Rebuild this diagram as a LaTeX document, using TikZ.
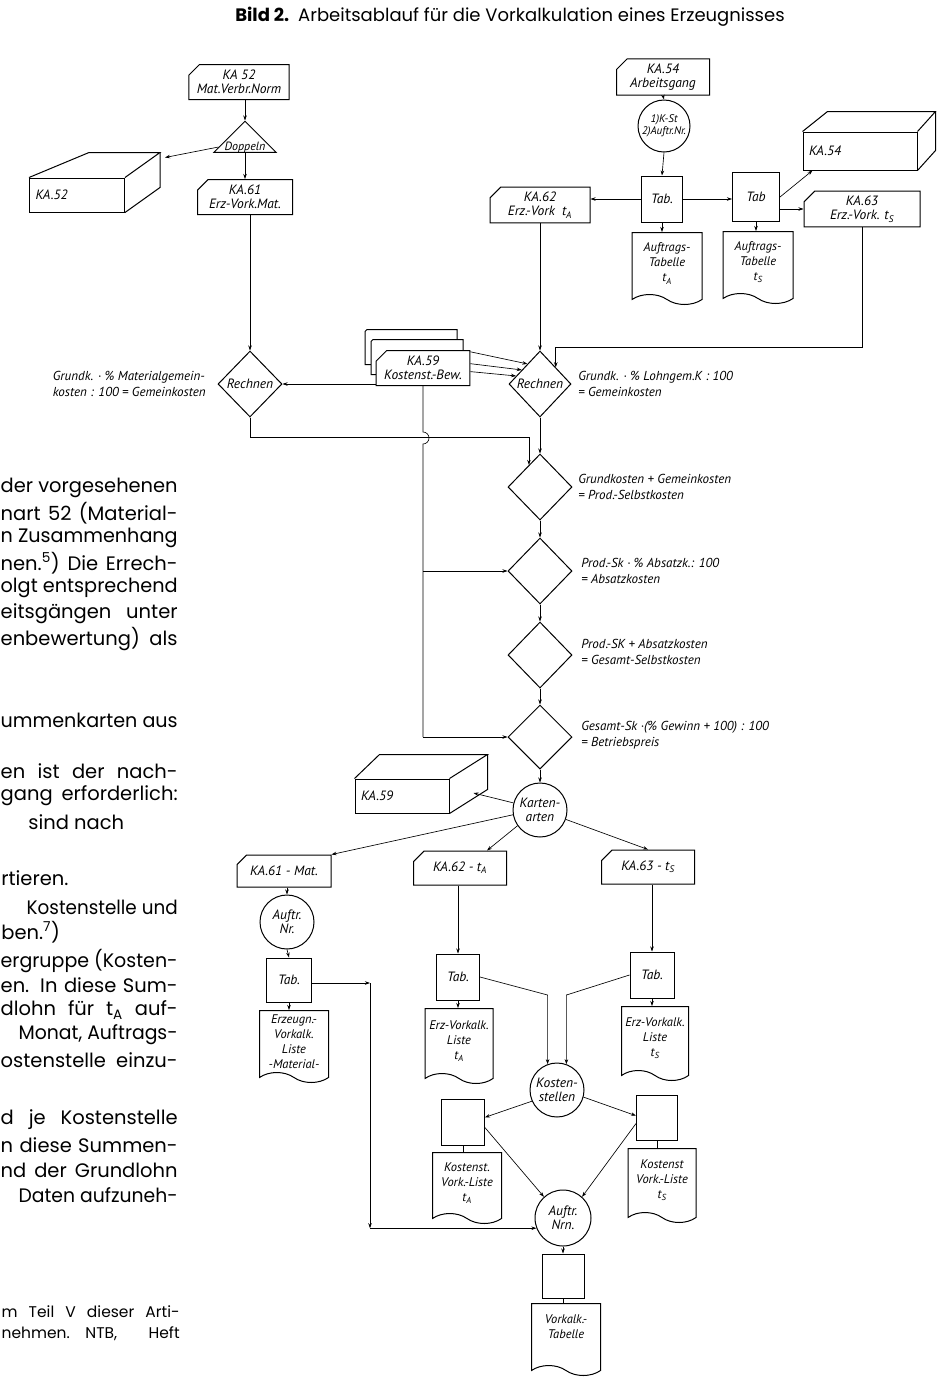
\documentclass[tikz,border=0pt]{standalone}
\usepackage{fontspec}
\setmainfont{Poppins}
\newfontfamily\handfont{PT Sans}
\usetikzlibrary{calc,arrows.meta,shapes.geometric,shapes.misc,shapes.symbols}
\newsavebox\linebox
\newcommand\blockline[2]{\sbox\linebox{#2}\ifdim\wd\linebox>#1\relax
  \resizebox{#1}{\height}{\usebox\linebox}\else\hbox to #1{#2}\fi}

\begin{document}
\begin{tikzpicture}[x=1pt, y=-1pt, line width=0.65pt,
    >={Stealth[length=5pt, width=3.5pt]},
    every node/.style={font=\handfont\itshape\fontsize{13.5}{14.5}\selectfont, align=center, inner sep=1pt},
    card/.style={draw, line width=1pt, fill=white, chamfered rectangle,
        chamfered rectangle corners=north west, chamfered rectangle xsep=7pt,
        minimum width=#1, minimum height=35pt},
    tabbox/.style={draw, line width=1pt, minimum width=43pt, minimum height=46pt},
    liste/.style={draw, line width=1pt, tape, tape bend top=none,
        tape bend bottom=out and in, tape bend height=10pt, anchor=north,
        minimum width=#1, minimum height=72pt, inner sep=0.5pt,
        font=\handfont\itshape\fontsize{12.5}{15}\selectfont},
    sorter/.style={draw, line width=1pt, circle, minimum size=54pt, inner sep=0pt},
    rechnen/.style={draw, line width=1pt, diamond, minimum width=64pt, minimum height=66pt, inner sep=0pt},
    kartei/.style={draw, line width=1pt, fill=white, text width=#1, inner xsep=6pt,
        minimum height=34pt, align=left},
    formel/.style={align=left, font=\handfont\itshape\fontsize{13}{16}\selectfont},
    bodytext/.style={inner sep=0pt, anchor=east, font=\fontsize{19.5}{22}\selectfont},
    foottext/.style={inner sep=0pt, anchor=east, font=\fontsize{15.5}{17}\selectfont}
  ]
  \useasboundingbox (0,0) rectangle (941,1377);

  \node (title) [font=\fontsize{18}{20}\selectfont] at (510,17)
      {\textbf{Bild 2.}\enspace Arbeitsablauf für die Vorkalkulation eines Erzeugnisses};

  % Textspalte links (abgeschnitten)
  \foreach \x/\y/\t [count=\i] in {0/488/{der vorgesehenen}, 0/513/{nart 52 (Material-},
      0/538/{n Zusammenhang}, 0/563/{nen.\textsuperscript{5}) Die Errech-},
      0/588/{olgt entsprechend}, 0/614/{eitsgängen unter}, 0/639/{enbewertung) als},
      0/720/{ummenkarten aus}, 0/771/{en ist der nach-}, 0/796/{gang erforderlich:},
      26/907/{Kostenstelle und}, 0/961/{ergruppe (Kosten-}, 0/985/{en. In diese Sum-},
      0/1010/{dlohn für t\textsubscript{A} auf-}, 18/1035/{Monat, Auftrags-},
      0/1060/{ostenstelle einzu-}, 0/1120/{d je Kostenstelle}, 0/1145/{n diese Summen-},
      0/1170/{nd der Grundlohn}, 18/1195/{Daten aufzuneh-}}
    \node (body\i) [bodytext] at (178,\y) {\blockline{\dimexpr177pt-\x pt\relax}{\t}};
  \node (body21) [bodytext, anchor=west] at (28,822) {sind nach};
  \node (body22) [bodytext, anchor=west] at (1,878) {rtieren.};
  \node (body23) [bodytext, anchor=west] at (1,932) {ben.\textsuperscript{7})};
  \node (foot1) [foottext] at (180,1312) {\blockline{178pt}{m Teil V dieser Arti-}};
  \node (foot2) [foottext] at (180,1334) {\blockline{178pt}{nehmen.\quad NTB,\ Heft}};

  % Material
  \node (ka52) [card=98pt] at (239,82) {KA 52\\Mat.Verbr.Norm};
  \node (dop) [draw, line width=1pt, isosceles triangle, isosceles triangle apex angle=90,
      shape border rotate=90, inner sep=0pt,
      font=\handfont\itshape\fontsize{12}{13}\selectfont] at (245,147) {Doppeln};
  \node (b52) [kartei=83pt] at (77,195) {KA.52};
  \node (ka61) [card=95pt] at (245,197) {KA.61\\Erz-Vork.Mat.};
  \node (r1) [rechnen] at (250,384) {Rechnen};
  \node (f1) [formel, anchor=east] at (207,384) {Grundk. · \% Materialgemein-\\kosten : 100 = Gemeinkosten};

  % Arbeitsgang
  \node (ka54) [card=93pt] at (663,77) {KA.54\\Arbeitsgang};
  \node (sort1) [sorter, minimum size=52pt, font=\handfont\itshape\fontsize{11}{12.5}\selectfont]
      at (664,126) {1)K-St\\2)Auftr.Nr.};
  \node (tab1) [tabbox, minimum width=41pt] at (662,199) {Tab.};
  \node (doc1) [liste=70pt] at (667,232) {Auftrags-\\Tabelle\\t\textsubscript{A}};
  \node (ka62) [card=100pt] at (540,205) {KA.62\\Erz.-Vork~~t\textsubscript{A}};
  \node (tab2) [tabbox, minimum width=47pt, minimum height=49pt] at (756,197) {Tab};
  \node (doc2) [liste=70pt] at (758,231) {Auftrags-\\Tabelle\\t\textsubscript{S}};
  \node (b54) [kartei=102pt, minimum height=38pt] at (860,151) {KA.54};
  \node (ka63) [card=116pt] at (862,209) {KA.63\\Erz.-Vork. t\textsubscript{S}};

  % Rechengang
  \node (ka59c) [card=92pt] at (411,347) {};
  \node (ka59b) [card=92pt] at (417,357) {};
  \node (ka59) [card=92pt] at (423,368) {KA.59\\Kostenst.-Bew.};
  \node (r2) [rechnen, minimum width=62pt] at (540,384) {Rechnen};
  \node (f2) [formel, anchor=west] at (577,384) {Grundk. · \% Lohngem.K : 100\\= Gemeinkosten};
  \node (d3) [rechnen] at (540,487) {};
  \node (f3) [formel, anchor=west] at (577,487) {Grundkosten + Gemeinkosten\\= Prod.-Selbstkosten};
  \node (d4) [rechnen] at (540,571) {};
  \node (f4) [formel, anchor=west] at (580,571) {Prod.-Sk · \% Absatzk.: 100\\= Absatzkosten};
  \node (d5) [rechnen] at (540,655) {};
  \node (f5) [formel, anchor=west] at (580,652) {Prod.-SK + Absatzkosten\\= Gesamt-Selbstkosten};
  \node (d6) [rechnen, minimum height=64pt] at (540,737) {};
  \node (f6) [formel, anchor=west] at (580,735) {Gesamt-Sk ·(\% Gewinn + 100) : 100\\= Betriebspreis};
  \node (kart) [sorter] at (540,810) {Karten-\\arten};
  \node (b59) [kartei=82pt] at (402,796) {KA.59};

  % Listen
  \node (ka61m) [card=94pt, minimum height=32pt] at (284,871) {KA.61 - Mat.};
  \node (ka62m) [card=93pt, minimum height=34pt] at (460,868) {KA.62 - t\textsubscript{A}};
  \node (ka63m) [card=93pt, minimum height=34pt] at (648,867) {KA.63 - t\textsubscript{S}};
  \node (anr) [sorter] at (287,922) {Auftr.\\Nr.};
  \node (tab3) [tabbox, minimum width=45pt, minimum height=44pt] at (289,980) {Tab.};
  \node (doc3) [liste=69pt] at (294,1010) {Erzeugn.-\\Vorkalk.\\Liste\\-Material-};
  \node (tab4) [tabbox] at (458,977) {Tab.};
  \node (doc4) [liste=68pt, minimum height=75pt] at (459,1008) {Erz-Vorkalk.\\Liste\\t\textsubscript{A}};
  \node (tab5) [tabbox, minimum width=44pt] at (652,975) {Tab.};
  \node (doc5) [liste=67pt, minimum height=74pt] at (655,1006) {Erz-Vorkalk.\\Liste\\t\textsubscript{S}};
  \node (kst) [sorter] at (557,1090) {Kosten-\\stellen};
  \node (bl) [tabbox] at (463,1122) {};
  \node (docl) [liste=69pt, minimum height=71pt] at (467,1152) {Kostenst.\\Vork.-Liste\\t\textsubscript{A}};
  \node (br) [tabbox, minimum width=41pt, minimum height=45pt] at (657,1118) {};
  \node (docr) [liste=68pt, minimum height=74pt] at (662,1148) {Kostenst\\Vork.-Liste\\t\textsubscript{S}};
  \node (anrn) [sorter, minimum size=56pt] at (563,1218) {Auftr.\\Nrn.};
  \node (bb) [tabbox, minimum width=42pt, minimum height=44pt] at (563,1276) {};
  \node (docf) [liste=69pt] at (566,1303) {Vorkalk.-\\Tabelle\\\phantom{X}};

  % Kartei-Kaesten
  \foreach \n/\l/\r/\h in {b52/60/35/25, b54/25/18/20, b59/25/38/24}
    {
      \draw [line width=1pt] (\n.north west) -- ++(\l,-\h) -- ($(\n.north east)+(\r,-\h)$) -- (\n.north east);
      \draw [line width=1pt] ($(\n.north east)+(\r,-\h)$) -- ($(\n.south east)+(\r,-\h)$) -- (\n.south east);
    }

  % Verbindungen
  \draw [->] (dop.apex |- ka52.south) -- (dop.apex);
  \draw [->] (dop.west) -- ($(b52.north east)+(40,-20)$);
  \draw [->] (dop.south) -- (dop.south |- ka61.north);
  \draw [->] (r1.north |- ka61.south) -- (r1.north);
  \draw [->] (ka59.west |- r1.east) -- (r1.east);
  \draw [->] ($(ka59.north east)!0.05!(ka59.south east)$) -- ($(r2.west)!0.6!(r2.north)$);
  \draw [->] ($(ka59.north east)!0.38!(ka59.south east)$) -- ($(r2.west)!0.42!(r2.north)$);
  \draw [->] ($(ka59.north east)!0.6!(ka59.south east)$) -- ($(r2.west)!0.24!(r2.north)$);

  \draw [->] (ka54.south) -- (sort1.north);
  \draw [->] (sort1.south) -- (tab1.north);
  \draw [->] (tab1.south) -- (tab1.south |- doc1.north);
  \draw [->] (tab1.west) -- (tab1.west -| ka62.east);
  \draw [->] (tab1.east) -- (tab1.east -| tab2.west);
  \draw [->] (tab2.south) -- (tab2.south |- doc2.north);
  \draw [->] (tab2.east) -- ($(b54.south west)+(10,0)$);
  \draw [->] (ka63.west -| tab2.east) -- (ka63.west);
  \draw [->] (ka62.south) -- (r2.north);
  \draw [->] (ka63.south) -- (ka63.south |- 0,347) -| ($(r2.east)!0.5!(r2.north)$);

  \draw [->] (r2.south) -- (d3.north);
  \draw [->] (r1.south) -- ++(0,20) -| ($(d3.west)!0.66!(d3.north)$);
  \draw (ka59.south) -- ++(0,46) arc[start angle=90, end angle=-90, radius=6pt] -- (ka59.south |- d6.west);
  \draw [->] (ka59.south |- d4.west) -- (d4.west);
  \draw [->] (ka59.south |- d6.west) -- (d6.west);
  \foreach \a/\b in {d3/d4, d4/d5, d5/d6, d6/kart}
    \draw [->] (\a.south) -- (\b.north);

  \draw [->] (kart.165) -- ($(b59.east)+(24,-3)$);
  \draw [->] (kart.190) -- (ka61m.north east);
  \draw [->] (kart.215) -- ($(ka62m.north east)+(-20,0)$);
  \draw [->] (kart.-20) -- (ka63m.north);

  \draw [->] (anr.north |- ka61m.south) -- (anr.north);
  \draw [->] (anr.south) -- (tab3.north);
  \draw [->] (tab3.south) -- (tab3.south |- doc3.north);
  \coordinate (c1) at (370,983);
  \coordinate (c2) at (c1 |- anrn.201);
  \draw [->] (tab3.east |- c1) -- (c1);
  \draw [->] (c1) -- (c2);
  \draw [->] (c2) -- (anrn.201);

  \draw [->] (tab4.north |- ka62m.south) -- (tab4.north);
  \draw [->] (tab4.south) -- (tab4.south |- doc4.north);
  \draw [->] (tab4.east) -- (kst.110 |- 0,995) -- (kst.110);
  \draw [->] (tab5.north |- ka63m.south) -- (tab5.north);
  \draw [->] (tab5.south) -- (tab5.south |- doc5.north);
  \draw [->] (tab5.west) -- (kst.70 |- 0,995) -- (kst.70);

  \draw [->] (kst.204) -- ($(bl.north east)!0.4!(bl.south east)$);
  \draw [->] (kst.-15) -- ($(br.north west)!0.45!(br.south west)$);
  \draw (bl.south) -- (bl.south |- docl.north);
  \draw (br.south) -- (br.south |- docr.north);
  \draw [->] ($(bl.north east)!0.62!(bl.south east)$) -- (anrn.132);
  \draw [->] ($(br.north west)!0.62!(br.south west)$) -- (anrn.48);
  \draw [->] (anrn.south) -- (bb.north);
  \draw (bb.south) -- (bb.south |- docf.north);

\end{tikzpicture}
\end{document}
